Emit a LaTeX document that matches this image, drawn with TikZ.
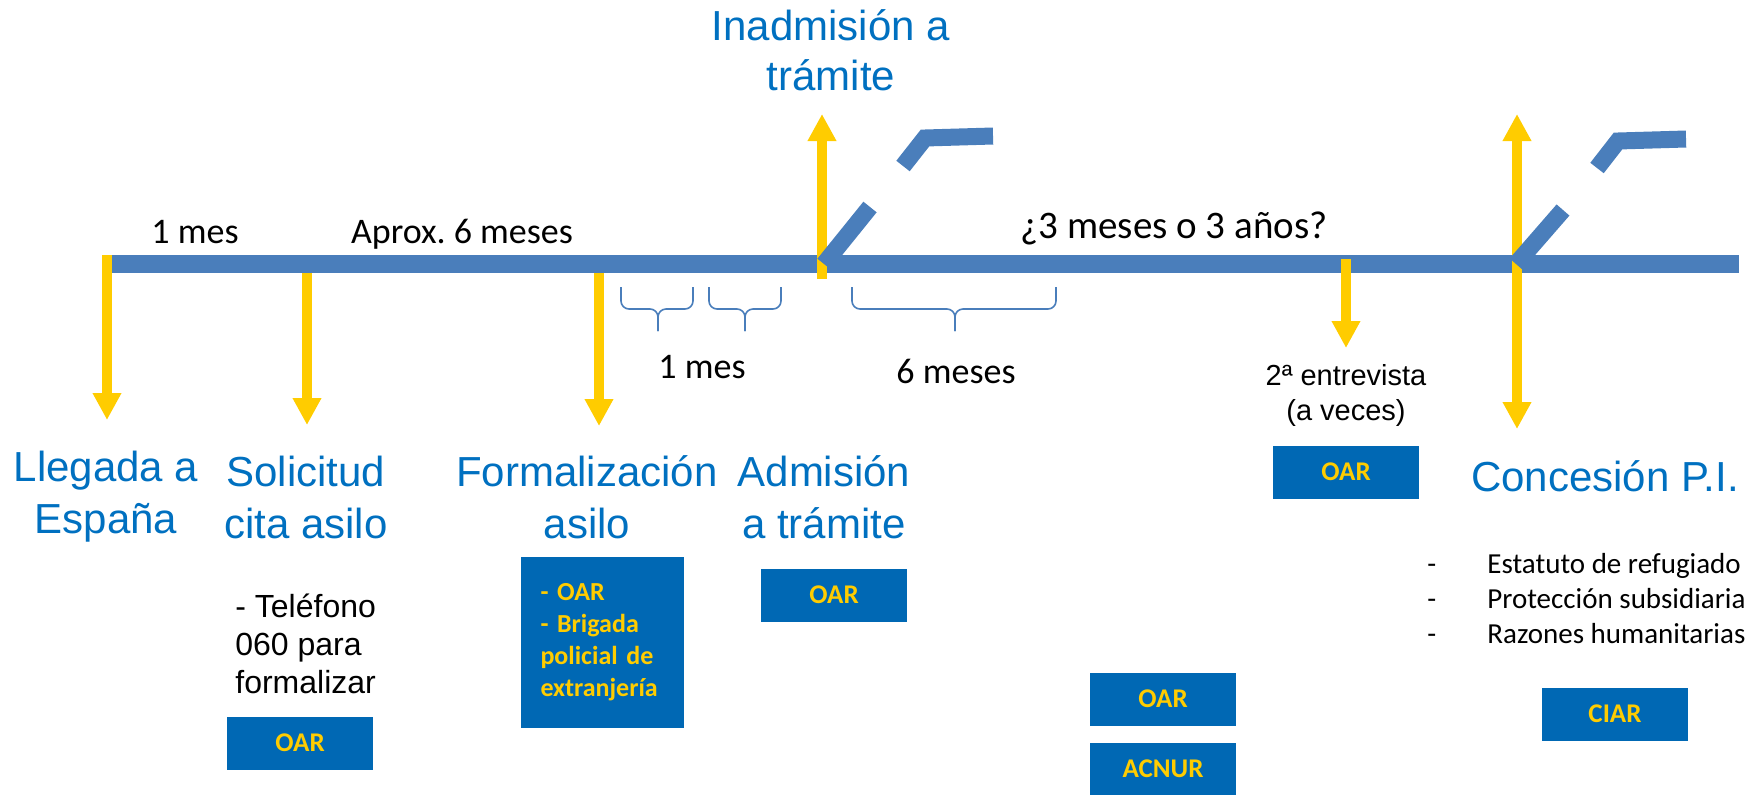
\documentclass[tikz,border=0pt]{standalone}
\usepackage{fontspec}
\setmainfont{Liberation Sans}
\newfontfamily\calibri{Carlito}
\definecolor{lineblue}{RGB}{74,126,187}
\definecolor{titleblue}{RGB}{0,112,192}
\definecolor{boxblue}{RGB}{0,104,180}
\definecolor{arrowyellow}{RGB}{255,204,0}
\usetikzlibrary{arrows.meta, positioning}
\newcommand{\listdash}{\makebox[30pt][l]{-}}
\frenchspacing

\begin{document}
\begin{tikzpicture}[x=0.5pt, y=-0.5pt,
    ytip/.tip={Triangle[width=13.5pt, length=13.5pt]},
    timeline/.style={draw=lineblue, line width=9pt},
    breakmark/.style={draw=lineblue, line width=8.5pt},
    yarrow/.style={draw=arrowyellow, line width=4.75pt, -ytip},
    ybiarrow/.style={draw=arrowyellow, line width=4.75pt, ytip-ytip},
    spanbrace/.style={draw=lineblue, line width=0.8pt, rounded corners=4pt},
    stage/.style={text=titleblue, font=\fontsize{21}{26}\selectfont, align=center, inner sep=0pt, anchor=base},
    period/.style={font=\calibri\fontsize{18}{22}\selectfont, inner sep=0pt, anchor=base},
    note/.style={font=\fontsize{16}{19}\selectfont, align=left, inner sep=0pt, anchor=base west},
    orgbox/.style={fill=boxblue, text=arrowyellow, font=\calibri\bfseries\fontsize{13.5}{16}\selectfont,
      minimum width=73pt, minimum height=26.5pt, inner sep=0pt}]

  \useasboundingbox (0,0) rectangle (1761,794);

  % timeline
  \draw[timeline] (109,264) coordinate (t-start) -- (1739,264) coordinate (t-end);

  % arrow ends
  \coordinate (llegada-from) at (107,255);
  \coordinate (llegada-to) at (107,420);
  \coordinate (solicitud-from) at (307,273);
  \coordinate (solicitud-to) at (307,425);
  \coordinate (formal-from) at (599,273);
  \coordinate (formal-to) at (599,426);
  \coordinate (inadm-from) at (822,279);
  \coordinate (inadm-to) at (822,114);
  \coordinate (entrev-from) at (1346,259);
  \coordinate (entrev-to) at (1346,348);
  \coordinate (conces-up) at (1517,114);
  \coordinate (conces-down) at (1517,429);

  \draw[yarrow] (llegada-from) -- (llegada-to);
  \draw[yarrow] (solicitud-from) -- (solicitud-to);
  \draw[yarrow] (formal-from) -- (formal-to);
  \draw[yarrow] (inadm-from) -- (inadm-to);
  \draw[yarrow] (entrev-from) -- (entrev-to);
  \draw[ybiarrow] (conces-up) -- (conces-down);

  % broken line marks
  \draw[breakmark] (824,264) -- (870,207);
  \draw[breakmark] (903,166) -- (925,138) -- (993,136);
  \draw[breakmark] (1516,264) -- (1563,210);
  \draw[breakmark] (1597,168) -- (1618,141) -- (1686,139);

  % braces
  \foreach \xa/\xm/\xb in {621/658/693, 709/745/781, 852/955/1056} {
    \draw[spanbrace] (\xa,287) |- (\xm,309) -- (\xm,331);
    \draw[spanbrace] (\xb,287) |- (\xm,309) -- (\xm,331);
  }

  % periods
  \node[period] (p-mes) at (195,243) {1 mes};
  \node[period] (p-aprox) at (462,243) {Aprox. 6 meses};
  \node[period, font=\calibri\fontsize{19.5}{22}\selectfont] (p-anos) at (1174,238) {¿3 meses o 3 años?};
  \node[period] (p-mes2) at (702,378) {1 mes};
  \node[period] (p-seis) at (956,383) {6 meses};

  % stages (base = last line)
  \node[stage] (llegada) at (106,533) {Llegada a\\España};
  \node[stage] (solicitud) at (306,538) {Solicitud\\cita asilo};
  \node[stage] (formal) at (587,538) {Formalización\\asilo};
  \node[stage] (admision) at (824,538) {Admisión\\a trámite};
  \node[stage, font=\fontsize{21}{25}\selectfont] (inadm) at (831,90) {Inadmisión a\\trámite};
  \node[stage] (conces) at (1605,491) {Concesión P.I.};

  % notes
  \node[note] (telefono) at (235,693) {- Teléfono\\060 para\\formalizar};
  \node[note, font=\fontsize{14.5}{17.5}\selectfont, align=center, anchor=base] (entrev) at (1346,420) {2ª entrevista\\(a veces)};
  \node[note, font=\calibri\fontsize{14.5}{17.5}\selectfont] (tipos) at (1427,643)
    {\listdash Estatuto de refugiado\\\listdash Protección subsidiaria\\\listdash Razones humanitarias};

  % organismos
  \node[orgbox] (oar-sol) at (300,743) {OAR};
  \node[orgbox, minimum height=85.5pt, text width=61.5pt, inner xsep=10pt, align=left,
    font=\calibri\bfseries\fontsize{13}{16}\selectfont] (oar-formal) at (602,642)
    {- OAR\\- Brigada\\policial de\\extranjería};
  \node[orgbox] (oar-adm) at (834,595) {OAR};
  \node[orgbox] (oar-entrev) at (1346,472) {OAR};
  \node[orgbox] (oar-res) at (1163,699) {OAR};
  \node[orgbox] (acnur) at (1163,769) {ACNUR};
  \node[orgbox] (ciar) at (1615,714) {CIAR};
\end{tikzpicture}
\end{document}
